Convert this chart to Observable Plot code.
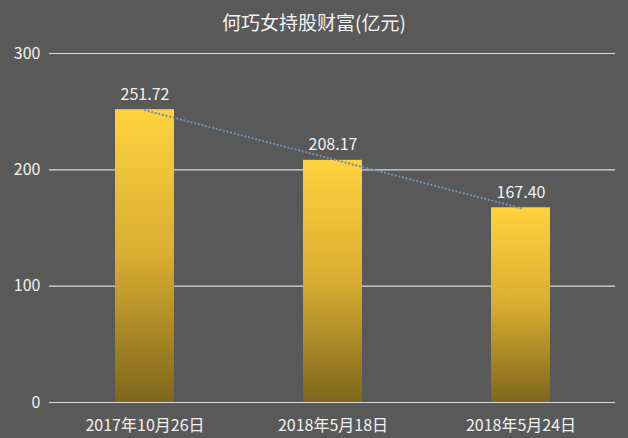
<!DOCTYPE html>
<html>
<head>
<meta charset="utf-8">
<script src="https://cdn.jsdelivr.net/npm/d3@7"></script>
<script src="https://cdn.jsdelivr.net/npm/@observablehq/plot@0.6"></script>
<style>
  html, body { margin: 0; padding: 0; background: #595959; }
  #wrap { width: 628px; height: 438px; overflow: hidden; background: #595959; }
  #title { height: 24px; padding-top: 10px; line-height: 24px; text-align: center; color: #f2f2f2;
           font-family: "Noto Sans CJK SC", sans-serif; font-size: 19px; }
  svg { display: block; overflow: visible; }
</style>
</head>
<body>
<div id="wrap">
  <div id="title">何巧女持股财富(亿元)</div>
  <div id="chart"></div>
</div>
<script>
const categories = ["2017年10月26日", "2018年5月18日", "2018年5月24日"];
const values = [251.72, 208.17, 167.40];
const yTicks = [0, 100, 200, 300];

const data = categories.map((c, i) => ({ date: c, value: values[i], idx: i }));

// linear trend line fitted to the values (least squares)
const mx = d3.mean(data, d => d.idx);
const my = d3.mean(values);
const slope = d3.sum(data, d => (d.idx - mx) * (d.value - my)) / d3.sum(data, d => (d.idx - mx) ** 2);
const trend = data.map(d => ({ date: d.date, value: my + slope * (d.idx - mx) }));

const font = "Noto Sans CJK SC, sans-serif";

const defs = () => {
  const g = d3.create("svg:defs");
  const lg = g.append("linearGradient").attr("id", "goldGrad")
    .attr("x1", 0).attr("y1", 0).attr("x2", 0).attr("y2", 1);
  lg.append("stop").attr("offset", "0%").attr("stop-color", "#ffd23f");
  lg.append("stop").attr("offset", "50%").attr("stop-color", "#d9ad30");
  lg.append("stop").attr("offset", "100%").attr("stop-color", "#7e661c");
  return g.node();
};

const chart = Plot.plot({
  width: 628,
  height: 404,
  marginTop: 19,
  marginBottom: 36,
  marginLeft: 49,
  marginRight: 13,
  style: { background: "#595959", color: "#f2f2f2", fontFamily: font, fontSize: "16px", overflow: "visible" },
  x: { domain: categories, paddingInner: 0.687, paddingOuter: 0.3435, label: null },
  y: { domain: [0, 300], label: null },
  marks: [
    defs,
    Plot.ruleY(yTicks, { stroke: "#d9d9d9", strokeWidth: 1.2 }),
    Plot.axisY(yTicks, { tickSize: 0, tickPadding: 9, fontSize: 16, fill: "#f2f2f2", label: null }),
    Plot.axisX({ tickSize: 0, tickPadding: 17, fontSize: 16, fill: "#f2f2f2", label: null }),
    Plot.barY(data, { x: "date", y: "value", fill: "url(#goldGrad)" }),
    Plot.line(trend, { x: "date", y: "value", stroke: "#6f8fb5", strokeWidth: 2.2, strokeLinecap: "round", strokeDasharray: "0.1,3.6" }),
    Plot.text(data, { x: "date", y: "value", text: d => d.value.toFixed(2), dy: -15, fill: "#f2f2f2", fontSize: 16 })
  ]
});
document.getElementById("chart").appendChild(chart);
</script>
</body>
</html>
